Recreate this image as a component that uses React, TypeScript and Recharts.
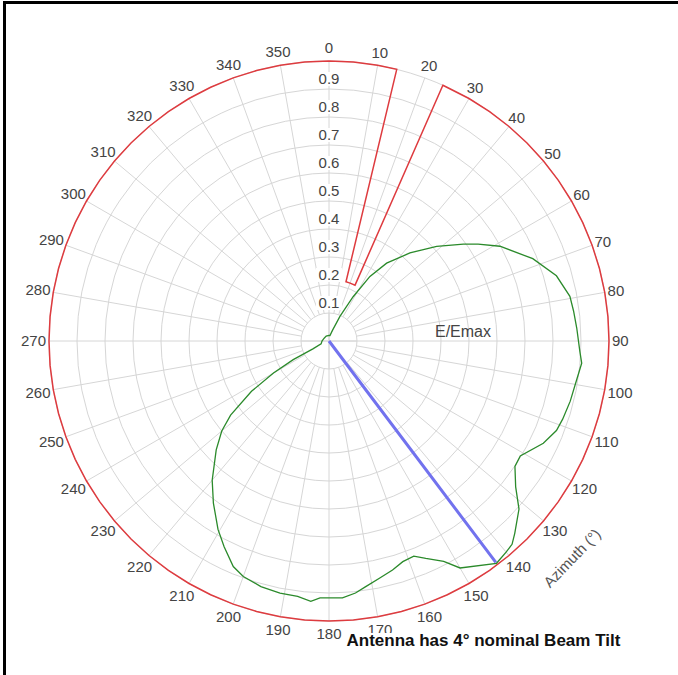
import React from "react";
import {
  RadarChart,
  Radar,
  PolarGrid,
  PolarAngleAxis,
  PolarRadiusAxis,
} from "recharts";

// azimuth ticks every 10 degrees, E/Emax rings every 0.1
const azimuthTicks = [
  0, 10, 20, 30, 40, 50, 60, 70, 80, 90, 100, 110, 120, 130, 140, 150, 160, 170,
  180, 190, 200, 210, 220, 230, 240, 250, 260, 270, 280, 290, 300, 310, 320, 330,
  340, 350,
];
const levelTicks = [0.1, 0.2, 0.3, 0.4, 0.5, 0.6, 0.7, 0.8, 0.9, 1.0];

// horizontal radiation pattern (E/Emax)
const patternAz = [
  0, 10, 18, 24, 28.6, 32.4, 36.5, 42.6, 48.7, 54.2, 57, 61, 68, 74, 79.5, 83, 87,
  92.5, 95, 99, 104, 108.5, 111.5, 115.5, 121, 124, 128, 131.5, 136, 138, 140, 143,
  150, 152.5, 156, 158.5, 161.5, 164.5, 168, 171.5, 174, 177, 182, 184, 187, 191,
  195.5, 200, 203, 207, 210.5, 215.5, 220, 226, 230, 233, 237, 240, 242.5, 244, 250,
  270, 300, 330, 360,
];
const patternE = [
  0.02, 0.02, 0.04, 0.096, 0.18, 0.273, 0.346, 0.427, 0.512, 0.592, 0.635, 0.698,
  0.785, 0.845, 0.875, 0.88, 0.886, 0.897, 0.906, 0.895, 0.888, 0.88, 0.873, 0.848,
  0.797, 0.801, 0.846, 0.906, 0.955, 0.977, 0.984, 0.994, 0.936, 0.887, 0.85, 0.826,
  0.831, 0.849, 0.866, 0.887, 0.905, 0.919, 0.918, 0.932, 0.919, 0.917, 0.91, 0.895,
  0.875, 0.825, 0.781, 0.711, 0.649, 0.56, 0.5, 0.44, 0.33, 0.229, 0.144, 0.064, 0.03,
  0.025, 0.02, 0.02, 0.02,
];

// red envelope: full rim, with a notch between ~14 and ~25 degrees
const rimAz = [
  24, 30, 35, 40, 45, 50, 55, 60, 65, 70, 75, 80, 85, 90, 95, 100, 105, 110, 115,
  120, 125, 130, 135, 140, 145, 150, 155, 160, 165, 170, 175, 180, 185, 190, 195,
  200, 205, 210, 215, 220, 225, 230, 235, 240, 245, 250, 255, 260, 265, 270, 275,
  280, 285, 290, 295, 300, 305, 310, 315, 320, 325, 330, 335, 340, 345, 350, 355,
  360, 5, 10, 14,
];
const rimLevel = 1.0;
const notchAz = [16, 20, 25];
const notchLevel = 0.22;

// main beam direction
const beamAz = [143, 143];
const beamE = [0, 0.99];

// axis lines crossing the hub (top, bottom, centre, right, left, centre)
const hubAz = [0, 180, 180, 90, 270, 270];
const hubE = [0.1, 0.1, 0, 0.1, 0.1, 0];

const CX = 329;
const CY = 341;
const R = 280;
const W = 678;
const H = 675;

const patternData = patternAz.map((az, i) => ({ az, value: patternE[i] }));
const envelopeData = [
  ...rimAz.map((az) => ({ az, value: rimLevel })),
  ...notchAz.map((az) => ({ az, value: notchLevel })),
];
const beamData = beamAz.map((az, i) => ({ az, value: beamE[i] }));
const hubData = hubAz.map((az, i) => ({ az, value: hubE[i] }));

const FONT = "'Liberation Sans', Arial, sans-serif";
const GRID = "#d6d6d6";

const AzimuthTick = (props: any) => {
  const v = Number(props.payload.value);
  if (v >= 360) return null;
  const t = (v * Math.PI) / 180;
  const s = Math.sin(t);
  const c = Math.cos(t);
  const w = String(v).length * 8.34;
  const d = R + 13 + (w / 2 - 10) * Math.abs(s);
  const x = CX + d * s;
  const y = CY - d * c;
  return (
    <text x={x} y={y} dy="0.35em" textAnchor="middle" fontSize={15} fontFamily={FONT} fill="#444">
      {v}
    </text>
  );
};

const LevelTick = (props: any) => {
  const v = Number(props.payload.value);
  if (v >= 0.99 || v < 0.05) return null;
  const { x, y } = props;
  return (
    <g>
      <rect x={x - 13} y={y - 17} width={26} height={14} fill="#fff" />
      <text x={x} y={y - 10} dy="0.35em" textAnchor="middle" fontSize={15} fontFamily={FONT} fill="#444">
        {v.toFixed(1)}
      </text>
    </g>
  );
};

const chartProps = {
  width: W,
  height: H,
  cx: CX,
  cy: CY,
  outerRadius: R,
  startAngle: 90,
  endAngle: -270,
};

const layer: React.CSSProperties = { position: "absolute", left: 0, top: 0 };

const hiddenAxes = (
  <>
    <PolarAngleAxis dataKey="az" type="number" domain={[0, 360]} tick={false} tickLine={false} axisLine={false} />
    <PolarRadiusAxis angle={90} type="number" domain={[0, 1]} tick={false} axisLine={false} />
  </>
);

export default function App() {
  return (
    <div style={{ position: "absolute", left: 0, top: 0, width: W, height: H, background: "#fff", overflow: "hidden" }}>
      <div
        style={{
          position: "absolute",
          left: 3,
          top: 1,
          width: 690,
          height: 690,
          borderTop: "3px solid #000",
          borderLeft: "3px solid #000",
          boxSizing: "border-box",
        }}
      />
      {/* spokes: start at the 0.1 ring */}
      <div style={layer}>
        <RadarChart {...chartProps} data={envelopeData} innerRadius={R * 0.1}>
          <PolarGrid gridType="circle" polarRadius={[]} stroke={GRID} strokeWidth={1} />
          <PolarAngleAxis dataKey="az" type="number" domain={[0, 360]} ticks={azimuthTicks} tick={false} tickLine={false} axisLine={false} />
          <PolarRadiusAxis angle={90} type="number" domain={[0, 1]} tick={false} axisLine={false} />
          <Radar dataKey="value" stroke="none" fill="none" fillOpacity={0} dot={false} isAnimationActive={false} />
        </RadarChart>
      </div>
      {/* rings, labels and red envelope */}
      <div style={layer}>
        <RadarChart {...chartProps} data={envelopeData}>
          <PolarGrid gridType="circle" radialLines={false} stroke={GRID} strokeWidth={1} />
          <PolarAngleAxis
            dataKey="az"
            type="number"
            domain={[0, 360]}
            ticks={azimuthTicks}
            tick={<AzimuthTick />}
            tickLine={false}
            axisLine={false}
          />
          <PolarRadiusAxis
            angle={90}
            type="number"
            domain={[0, 1]}
            ticks={levelTicks}
            tick={<LevelTick />}
            axisLine={false}
          />
          <Radar dataKey="value" stroke="#de3b3f" strokeWidth={1.5} fill="none" fillOpacity={0} dot={false} isAnimationActive={false} />
        </RadarChart>
      </div>
      <div style={layer}>
        <RadarChart {...chartProps} data={hubData}>
          {hiddenAxes}
          <Radar dataKey="value" stroke={GRID} strokeWidth={1} fill="none" fillOpacity={0} dot={false} isAnimationActive={false} />
        </RadarChart>
      </div>
      <div style={layer}>
        <RadarChart {...chartProps} data={beamData}>
          {hiddenAxes}
          <Radar dataKey="value" stroke="#7272ee" strokeWidth={3} fill="none" fillOpacity={0} dot={false} isAnimationActive={false} />
        </RadarChart>
      </div>
      <div style={layer}>
        <RadarChart {...chartProps} data={patternData}>
          {hiddenAxes}
          <Radar dataKey="value" stroke="#2b8a2b" strokeWidth={1.3} fill="none" fillOpacity={0} dot={false} isAnimationActive={false} />
        </RadarChart>
      </div>
      <svg width={W} height={H} style={{ position: "absolute", left: 0, top: 0, pointerEvents: "none" }}>
        <text x={435} y={337} fontSize={16} fontFamily={FONT} fill="#444">
          E/Emax
        </text>
        <text
          x={572}
          y={558}
          dy="0.35em"
          textAnchor="middle"
          fontSize={15}
          fontFamily={FONT}
          fill="#555"
          transform="rotate(-46 572 558)"
        >
          Azimuth (°)
        </text>
        <rect x={343} y={633} width={290} height={20} fill="#fff" />
        <text x={346.5} y={646} fontSize={17} fontWeight="bold" fontFamily={FONT} fill="#111">
          Antenna has 4° nominal Beam Tilt
        </text>
      </svg>
    </div>
  );
}
